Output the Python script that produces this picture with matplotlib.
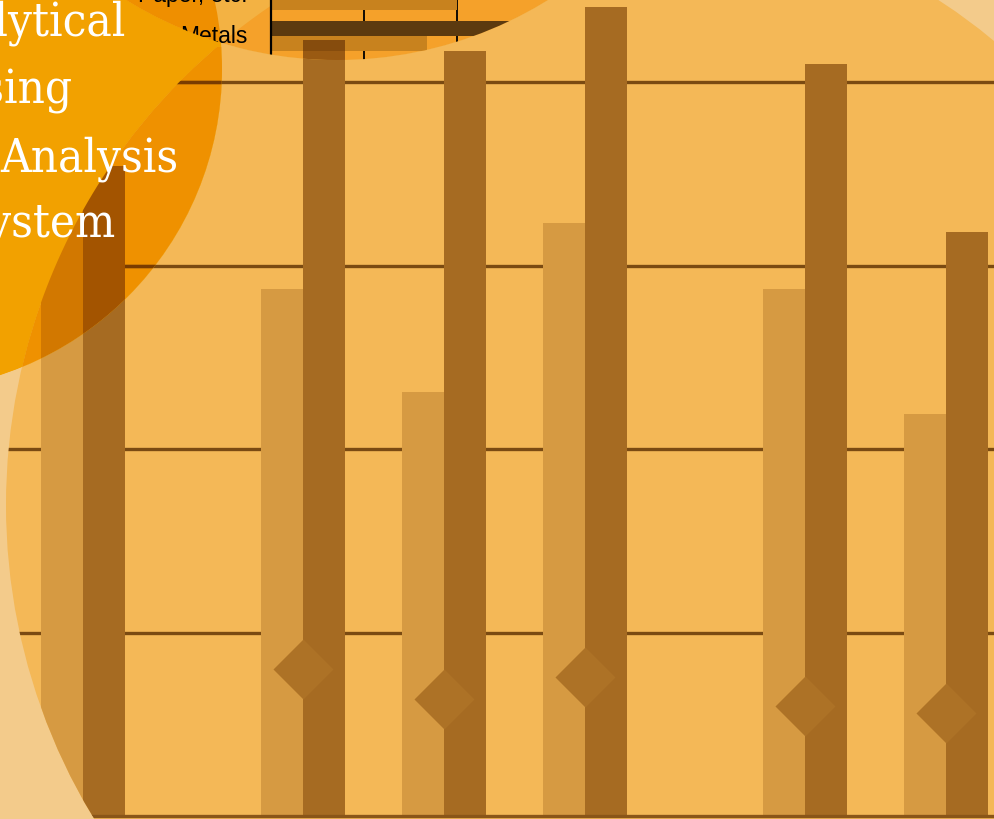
import numpy as np
import matplotlib
matplotlib.use('Agg')
import matplotlib.pyplot as plt
from matplotlib.patches import Circle, PathPatch, Polygon
from matplotlib.path import Path
from matplotlib.transforms import Affine2D

W, H = 994, 820

# main bar chart
group_x = np.array([0.78, 1.22, 1.50, 1.78, 2.22, 2.50])
light_vals = [3.40, 2.87, 2.31, 3.23, 2.87, 2.19]
dark_vals = [3.54, 4.23, 4.17, 4.41, 4.10, 3.18]
marker_vals = [np.nan, 0.80, 0.64, 0.76, 0.60, 0.56]
grid_levels = [1, 2, 3, 4]
x_ticks = [1, 2]

# small horizontal chart in the top circle
inset_labels = ['Paper, etc.', 'Metals']
inset_light = [2.0, 1.68]
inset_dark = [2.6, 2.85]
inset_grid = [1, 2]

title_lines = ['Analytical', 'Processing', 'Analysis', 'System']

PALE = '#F3CB8B'
BIG = '#F4B857'
LIGHT = '#D69A42'
DARK = '#A66B22'
GRID = '#7A4A12'
DIAMOND = '#AD7226'
ORANGE = '#F2A100'
ORANGE_ON_BIG = '#EF9100'
LIGHT_IN_ORANGE = '#D27800'
DARK_IN_ORANGE = '#A35400'
GRID_IN_ORANGE = '#7A3C00'
SMALL_ON_BIG = '#F5A12A'
SMALL_ON_PALE = '#F3B243'
SMALL_ON_ORANGE = '#EF8F00'
INSET_LIGHT = '#C8821E'
INSET_DARK = '#5C3A0F'

# circles in pixel units (x right, y down)
big_c, big_r = (609, 506), 603
orange_c, orange_r = (-100, 70), 322
small_c, small_r = (337, -340), 401

fig = plt.figure(figsize=(W / 100, H / 100), dpi=100, facecolor=PALE)
ax = fig.add_axes([0, 0, 1, 1])
ax.set_facecolor('none')
ax.set_xlim(1 - 193 / 502, 1 + (W - 193) / 502)
ax.set_ylim(-(H - 817) / 183.5, 817 / 183.5)
px = Affine2D().scale(1 / W, -1 / H).translate(0, 1) + ax.transAxes


def clip_to(artists, patch):
    for a in artists:
        a.set_clip_path(patch)
        a.set_clip_box(None)


def circle(target, c, r, color, z):
    p = Circle(c, r, transform=px, fc=color, ec='none', zorder=z)
    target.add_patch(p)
    return p


def minus_path(c1, r1, c2, r2):
    # disc 1 with disc 2 cut out (opposite winding)
    t = np.linspace(0, 2 * np.pi, 400)
    a = np.column_stack([c1[0] + r1 * np.cos(t), c1[1] + r1 * np.sin(t)])
    b = np.column_stack([c2[0] + r2 * np.cos(t[::-1]), c2[1] + r2 * np.sin(t[::-1])])
    codes = ([Path.MOVETO] + [Path.LINETO] * (len(t) - 1)) * 2
    return Path(np.vstack([a, b]), codes)


orange = circle(ax, orange_c, orange_r, ORANGE, 1)
big = circle(ax, big_c, big_r, BIG, 2)
clip_to([circle(ax, big_c, big_r, ORANGE_ON_BIG, 3)], orange)

w = 42 / 502


def draw_chart(target, light_col, dark_col, grid_col, z, clip, diamonds):
    arts = []
    for g in grid_levels:
        arts.append(target.axhline(g, color=grid_col, lw=2.4, zorder=z))
    arts += list(target.bar(group_x - w / 2, light_vals, w, color=light_col, lw=0, zorder=z + 0.1))
    arts += list(target.bar(group_x + w / 2, dark_vals, w, color=dark_col, lw=0, zorder=z + 0.1))
    if diamonds:
        arts += target.plot(group_x, marker_vals, ls='none', marker='D', ms=31,
                            mfc=DIAMOND, mec='none', zorder=z + 0.2)
    clip_to(arts, clip)


draw_chart(ax, LIGHT, DARK, GRID, 4, big, True)
draw_chart(ax, LIGHT_IN_ORANGE, DARK_IN_ORANGE, GRID_IN_ORANGE, 7, orange, False)

# part of the orange disc that lies outside the big disc
cover = PathPatch(minus_path(orange_c, orange_r, big_c, big_r), transform=px,
                  fc=ORANGE, ec='none', zorder=9)
ax.add_patch(cover)
clip_to([cover], orange)

# top circle
small = circle(ax, small_c, small_r, SMALL_ON_BIG, 10)
s_out = PathPatch(minus_path(small_c, small_r, big_c, big_r), transform=px,
                  fc=SMALL_ON_PALE, ec='none', zorder=11)
ax.add_patch(s_out)
clip_to([s_out], small)
clip_to([circle(ax, orange_c, orange_r, SMALL_ON_ORANGE, 12)], small)

for side in ['top', 'left', 'right']:
    ax.spines[side].set_visible(False)
ax.spines['bottom'].set_position(('data', 0))
ax.spines['bottom'].set_color('#8A5518')
ax.spines['bottom'].set_linewidth(2.4)
ax.spines['bottom'].set_zorder(6)
ax.spines['bottom'].set_clip_path(big)
ax.set_xticks(x_ticks)
ax.set_xticklabels([])
ax.set_yticks([])
ax.tick_params(axis='x', direction='out', length=3, width=1.2, color=GRID)

# small horizontal bar chart
ins = fig.add_axes([271 / W, 1 - 62 / H, 372 / W, 107 / H], zorder=1)
ins.set_xlim(0, 4)
ins.set_ylim(1.61, -1.0)
ins.patch.set_visible(False)
for s in ins.spines.values():
    s.set_visible(False)
ins.set_xticks([])
ins.set_yticks([])
rows = np.arange(len(inset_labels))
h = 15 / 41
arts = [ins.axvline(g, color='black', lw=1.3, zorder=1) for g in inset_grid]
arts += list(ins.barh(rows - h / 2, inset_dark, h, color=INSET_DARK, lw=0, zorder=2))
arts += list(ins.barh(rows + h / 2, inset_light, h, color=INSET_LIGHT, lw=0, zorder=2))
arts.append(ins.axvline(0, color='black', lw=1.6, zorder=3))
clip_to(arts, small)
for r, lab in zip(rows, inset_labels):
    ins.text(-0.25, r, lab, ha='right', va='center', fontsize=16.5,
             family='Liberation Sans', color='black')

ov = fig.add_axes([0, 0, 1, 1], zorder=2)
ov.set_xlim(ax.get_xlim())
ov.set_ylim(ax.get_ylim())
ov.axis('off')

# main bars seen through the top circle
through = list(ov.bar(group_x - w / 2, light_vals, w, color='#9A5A10', alpha=0.45, lw=0))
through += list(ov.bar(group_x + w / 2, dark_vals, w, color='#502000', alpha=0.55, lw=0))
clip_to(through, small)

# hide the label parts that fall below the top circle's edge
xs = np.linspace(100, 271, 120)
edge = small_c[1] + np.sqrt(small_r ** 2 - (xs - small_c[0]) ** 2)
edge = np.clip(edge, -10, 48)
mask = Polygon(np.vstack([np.column_stack([xs, edge]), [[271, 48], [100, 48]]]),
               closed=True, transform=px)
hide = [circle(ov, big_c, big_r, BIG, 5), circle(ov, orange_c, orange_r, ORANGE, 6)]
clip_to(hide, mask)

# title
title_right = [126, 73, 178, 116]
title_base = [35, 103, 172, 237]
for s, xr, yb in zip(title_lines, title_right, title_base):
    ov.text(xr, yb, s, transform=px, ha='right', va='baseline', color='white',
            fontsize=34, family='DejaVu Serif', fontstretch='condensed', zorder=20)

fig.savefig('out.png', dpi=100, facecolor=PALE)
